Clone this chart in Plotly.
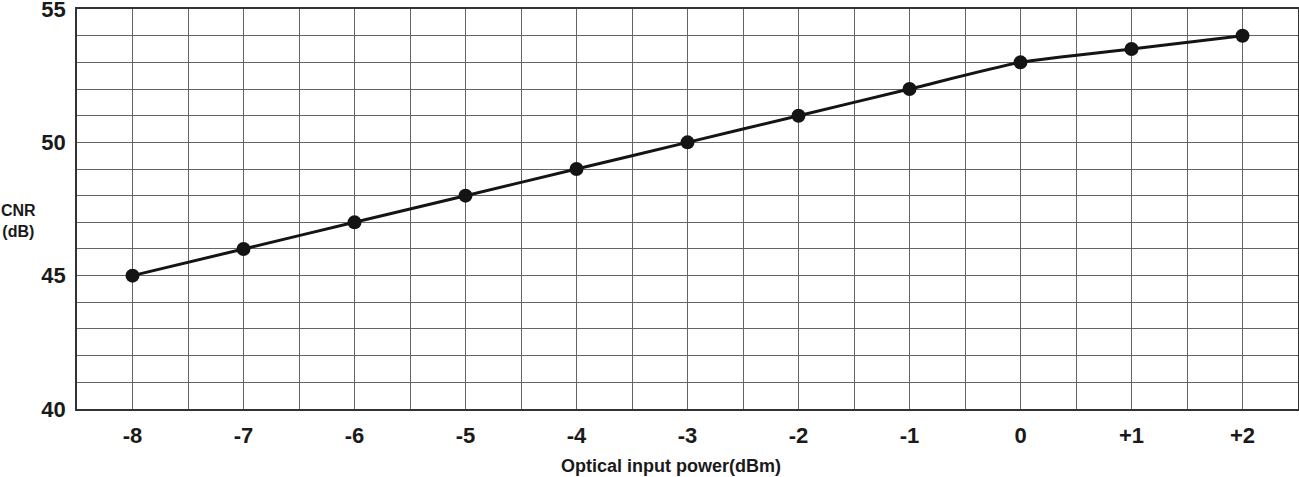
import plotly.graph_objects as go

x_values = [-8, -7, -6, -5, -4, -3, -2, -1, 0, 1, 2]
cnr_values = [45, 46, 47, 48, 49, 50, 51, 52, 53, 53.5, 54]
x_tick_vals = [-8, -7, -6, -5, -4, -3, -2, -1, 0, 1, 2]
x_tick_text = ["-8", "-7", "-6", "-5", "-4", "-3", "-2", "-1", "0", "+1", "+2"]
y_tick_vals = [40, 45, 50, 55]
y_tick_text = ["40", "45", "50", "55"]

tick_font = dict(family="Liberation Sans, Arial", size=22, color="#1a1a1a", weight="bold")
title_font = dict(family="Liberation Sans, Arial", size=18, color="#1a1a1a", weight="bold")
grid_color = "#646464"

fig = go.Figure()
fig.add_trace(go.Scatter(
    x=x_values, y=cnr_values, mode="lines+markers",
    line=dict(color="#141414", width=3, shape="spline", smoothing=0.5),
    marker=dict(color="#141414", size=14),
    showlegend=False, cliponaxis=False,
))

fig.update_xaxes(
    range=[-8.5, 2.5], tickvals=x_tick_vals, ticktext=x_tick_text,
    tickfont=tick_font, showgrid=True, gridcolor=grid_color, gridwidth=1,
    minor=dict(dtick=0.5, tick0=-8.5, showgrid=True, gridcolor=grid_color, gridwidth=1),
    showline=True, linecolor="#333333", linewidth=1.5, mirror=True,
    ticks="", ticklabelstandoff=6, zeroline=False, automargin=False,
    ticklabeloverflow="allow",
)
fig.update_yaxes(
    range=[39.999, 55.001], tickvals=y_tick_vals, ticktext=y_tick_text,
    tickfont=tick_font, showgrid=True, gridcolor=grid_color, gridwidth=1,
    minor=dict(dtick=1, tick0=40, showgrid=True, gridcolor=grid_color, gridwidth=1),
    showline=True, linecolor="#333333", linewidth=1.5, mirror=True,
    ticks="", ticklabelstandoff=5, zeroline=False, automargin=False,
    ticklabeloverflow="allow",
)

fig.add_annotation(
    text="Optical input power(dBm)", xref="paper", yref="paper", x=0.4865, y=-0.1425,
    xanchor="center", yanchor="middle", showarrow=False, font=title_font,
)
fig.add_annotation(
    text="CNR<br>(dB)", xref="paper", yref="paper", x=-0.048, y=0.47,
    xanchor="center", yanchor="middle", showarrow=False, align="center",
    font=dict(family="Liberation Sans, Arial", size=16, color="#1a1a1a", weight="bold"),
)

fig.update_layout(
    width=1299, height=477,
    margin=dict(l=77, r=1, t=9, b=68),
    plot_bgcolor="white", paper_bgcolor="white",
)

fig.write_html("out.html", config={"displayModeBar": False},
               post_script="document.body.style.margin='0';")
